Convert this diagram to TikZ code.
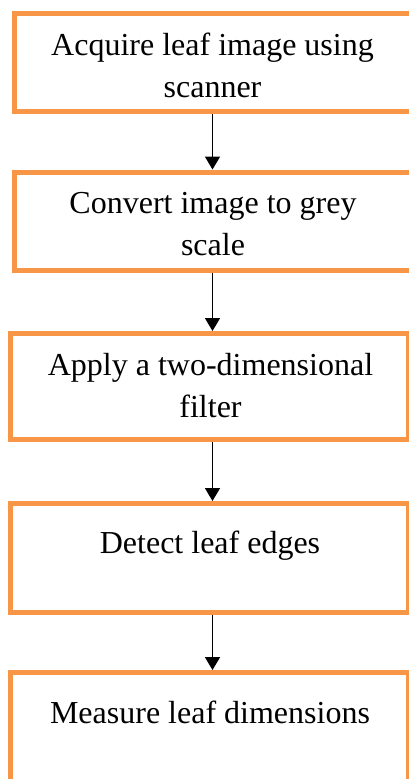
\documentclass[tikz,border=0pt]{standalone}
\usepackage{fontspec}
\setmainfont{Liberation Serif}
\usetikzlibrary{arrows.meta}
\definecolor{boxorange}{HTML}{F79646}
\begin{document}
\begin{tikzpicture}[x=1pt,y=-1pt,
  box/.style={draw=boxorange, line width=5pt, rectangle, inner sep=0pt, fill=white},
  lbl/.style={font={\fontsize{32}{42}\selectfont}, align=center, inner sep=0pt, anchor=base},
  arr/.style={line width=1.8pt, -{Triangle[width=15pt,length=13pt]}}]
\useasboundingbox (0,0) rectangle (409,779);
\clip (0,0) rectangle (409,779);
\fill[white] (0,0) rectangle (409,779);
\node[box, minimum width=399pt, minimum height=98pt] (b1) at (213.5,62.5) {};
\node[box, minimum width=399pt, minimum height=98pt] (b2) at (213.5,221) {};
\node[box, minimum width=398pt, minimum height=106pt] (b3) at (209.5,386.5) {};
\node[box, minimum width=398pt, minimum height=109pt] (b4) at (209.5,558) {};
\node[box, minimum width=398pt, minimum height=127.5pt] (b5) at (209.5,736.25) {};
\node[lbl] (t1) at (212.5,97) {Acquire leaf image using\\scanner};
\node[lbl] (t2) at (213,255) {Convert image to grey\\scale};
\node[lbl] (t3) at (210.5,417) {Apply a two-dimensional\\filter};
\node[lbl] (t4) at (210,553) {Detect leaf edges};
\node[lbl] (t5) at (210,723) {Measure leaf dimensions};
\coordinate (ax) at (212.5,0);
\draw[arr] (b1.south -| ax) -- (b2.north -| ax);
\draw[arr] (b2.south -| ax) -- (b3.north -| ax);
\draw[arr] (b3.south -| ax) -- (b4.north -| ax);
\draw[arr] (b4.south -| ax) -- (b5.north -| ax);
\end{tikzpicture}
\end{document}
